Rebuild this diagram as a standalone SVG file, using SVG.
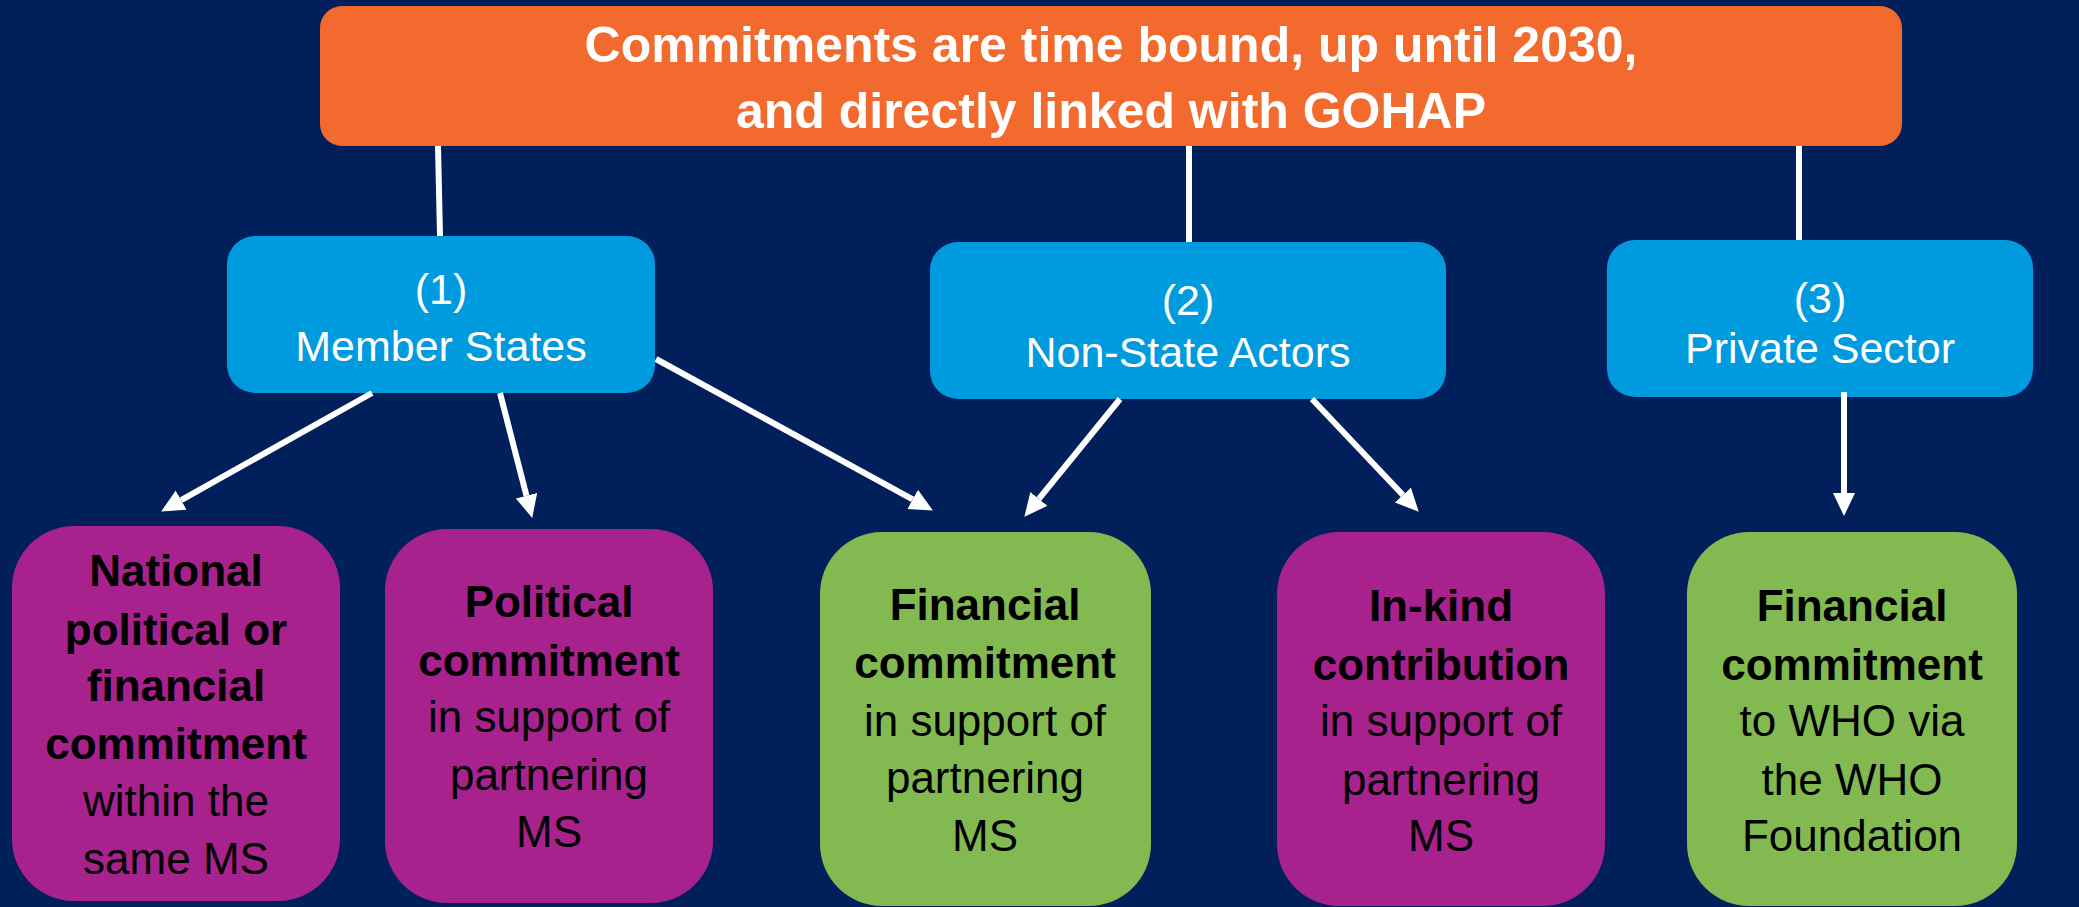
<svg xmlns="http://www.w3.org/2000/svg" width="2079" height="907" viewBox="0 0 2079 907">
<style>
.bg{fill:#01205B}
.top{fill:#F26A2D}
.cat{fill:#009ADE}
.pur{fill:#A7228D}
.grn{fill:#82BA51}
.t{font-family:"Liberation Sans",Arial,sans-serif;text-anchor:middle}
.title{font-size:50px;font-weight:bold;fill:#FFFFFF}
.ct{font-size:43px;fill:#FFFFFF}
.bt{font-size:44px;fill:#000000}
.b{font-weight:bold}
.ln{stroke:#FFFFFF;stroke-width:6;fill:none}
</style>
<defs>
<marker id="ah" markerUnits="userSpaceOnUse" markerWidth="24" markerHeight="24" refX="0" refY="11" orient="auto" viewBox="0 0 24 22">
<path d="M0,0 L23,11 L0,22 Z" fill="#FFFFFF"/>
</marker>
</defs>
<rect class="bg" x="0" y="0" width="2079" height="907"/>

<g id="node-top">
<rect class="top" x="320" y="6" width="1582" height="140" rx="22"/>
<text class="t title" x="1111" y="62">Commitments are time bound, up until 2030,</text>
<text class="t title" x="1111" y="128">and directly linked with GOHAP</text>
</g>

<g id="node-ms">
<rect class="cat" x="227" y="236" width="428" height="157" rx="28"/>
<text class="t ct" x="441" y="304">(1)</text>
<text class="t ct" x="441" y="361">Member States</text>
</g>
<g id="node-nsa">
<rect class="cat" x="930" y="242" width="516" height="157" rx="28"/>
<text class="t ct" x="1188" y="315">(2)</text>
<text class="t ct" x="1188" y="367">Non-State Actors</text>
</g>
<g id="node-ps">
<rect class="cat" x="1607" y="240" width="426" height="157" rx="28"/>
<text class="t ct" x="1820" y="313">(3)</text>
<text class="t ct" x="1820" y="363">Private Sector</text>
</g>

<g id="node-national">
<rect class="pur" x="12" y="526" width="328" height="375" rx="62"/>
<text class="t bt b" x="176" y="586">National</text>
<text class="t bt b" x="176" y="645">political or</text>
<text class="t bt b" x="176" y="701">financial</text>
<text class="t bt b" x="176" y="759">commitment</text>
<text class="t bt" x="176" y="816">within the</text>
<text class="t bt" x="176" y="874">same MS</text>
</g>
<g id="node-political">
<rect class="pur" x="385" y="529" width="328" height="374" rx="62"/>
<text class="t bt b" x="549" y="617">Political</text>
<text class="t bt b" x="549" y="676">commitment</text>
<text class="t bt" x="549" y="732">in support of</text>
<text class="t bt" x="549" y="790">partnering</text>
<text class="t bt" x="549" y="847">MS</text>
</g>
<g id="node-financial-ms">
<rect class="grn" x="820" y="532" width="331" height="374" rx="62"/>
<text class="t bt b" x="985" y="620">Financial</text>
<text class="t bt b" x="985" y="678">commitment</text>
<text class="t bt" x="985" y="736">in support of</text>
<text class="t bt" x="985" y="793">partnering</text>
<text class="t bt" x="985" y="851">MS</text>
</g>
<g id="node-inkind">
<rect class="pur" x="1277" y="532" width="328" height="374" rx="62"/>
<text class="t bt b" x="1441" y="621">In-kind</text>
<text class="t bt b" x="1441" y="680">contribution</text>
<text class="t bt" x="1441" y="736">in support of</text>
<text class="t bt" x="1441" y="795">partnering</text>
<text class="t bt" x="1441" y="851">MS</text>
</g>
<g id="node-financial-who">
<rect class="grn" x="1687" y="532" width="330" height="374" rx="62"/>
<text class="t bt b" x="1852" y="621">Financial</text>
<text class="t bt b" x="1852" y="680">commitment</text>
<text class="t bt" x="1852" y="736">to WHO via</text>
<text class="t bt" x="1852" y="795">the WHO</text>
<text class="t bt" x="1852" y="851">Foundation</text>
</g>

<g id="connectors">
<line class="ln" x1="438" y1="146" x2="440" y2="236"/>
<line class="ln" x1="1189" y1="146" x2="1189" y2="242"/>
<line class="ln" x1="1799" y1="146" x2="1799" y2="240"/>
<line class="ln" x1="372" y1="393" x2="181.2" y2="500.2" marker-end="url(#ah)"/>
<line class="ln" x1="500" y1="393" x2="526.5" y2="495.7" marker-end="url(#ah)"/>
<line class="ln" x1="656" y1="359" x2="912.7" y2="499.4" marker-end="url(#ah)"/>
<line class="ln" x1="1120" y1="399" x2="1038.9" y2="498.9" marker-end="url(#ah)"/>
<line class="ln" x1="1312" y1="399" x2="1402.9" y2="495" marker-end="url(#ah)"/>
<line class="ln" x1="1844" y1="392" x2="1844" y2="493" marker-end="url(#ah)"/>
</g>
</svg>
